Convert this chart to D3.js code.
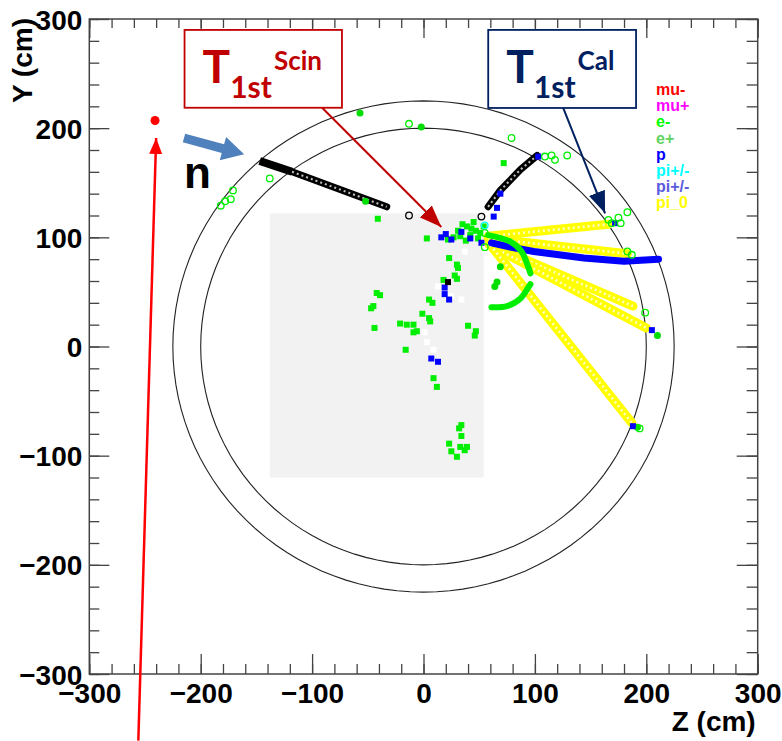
<!DOCTYPE html>
<html>
<head>
<meta charset="utf-8">
<script src="https://cdn.jsdelivr.net/npm/d3@7"></script>
<style>
  body { margin: 0; background: #fff; }
  svg { display: block; font-family: "Liberation Sans", Arial, sans-serif; }
</style>
</head>
<body>
<svg id="chart" width="782" height="741"></svg>
<script>
// ---- data (cm) ----
let zTicks = [-300, -200, -100, 0, 100, 200, 300];
let yTicks = [-300, -200, -100, 0, 100, 200, 300];
let ringRadii = [200, 225];
let shadeZ = [-138, 54];
let shadeY = [-120, 122];

let legendLabels = ["mu-", "mu+", "e-", "e+", "p", "pi+/-", "pi+/-", "pi_0"];
let legendColors = ["#ff0000", "#ff00ff", "#00ff00", "#5fd35f", "#0000ff", "#00ffff", "#5b5be0", "#ffff00"];

// tracks drawn as dense runs of markers
let blackSolidTrack = [[-147, 170], [-118, 160]];
let blackRingTracks = [
  [[-118, 160], [-33, 128]],
  [[58, 128], [69, 143], [87, 162], [102, 175]]
];
let blueTrack = [[61, 95], [78, 91], [99, 87], [144, 81], [180, 78], [195, 79], [211, 80]];
let greenArcs = [
  [[58, 102], [78, 96], [88, 87], [94, 73], [96, 67]],
  [[61, 36], [75, 37], [87, 44], [94, 54], [96, 57]]
];
let yellowTracks = [
  [[58, 101], [166, 112]],
  [[58, 99], [183, 85]],
  [[59, 94], [188, 37]],
  [[59, 93], [200, 17]],
  [[60, 93], [187, -70]]
];

// single hits
let greenSquares = [[3, 99], [-41, 117], [23, 81], [30, 75], [31, 72], [28, 65], [30, 62], [18, 61],
  [-42, 49], [-39, 47], [-45, 37], [-47, 35], [-44, 17], [5, 43], [8, 40], [-1, 30], [5, 26], [6, 23],
  [-21, 21], [-15, 20], [-9, 20], [-9, 13], [-6, 14], [40, 19], [47, 14], [46, 10], [-16, -3], [9, -29],
  [12, -37], [34, -72], [32, -75], [34, -82], [23, -89], [25, -96], [33, -92], [37, -95], [39, -92],
  [30, -101], [35, 112], [39, 110], [43, 108], [47, 106], [31, 106], [27, 100], [38, 97], [49, 99],
  [51, 104], [45, 114], [54, 110], [33, 101], [42, 102], [22, 98], [72, 168]];
let greenDots = [[-52, 133], [-57, 214], [-2, 201], [69, 73], [66, 59], [64, 55], [210, 10], [192, -74]];
let greenRings = [[-138, 154], [-182, 129], [-178, 133], [-173, 135], [-171, 143], [-13, 204], [79, 191],
  [109, 174], [115, 175], [118, 171], [129, 175], [55, 104], [55, 91], [166, 116], [177, 113], [183, 123],
  [175, 118], [169, 113], [183, 87], [187, 84], [199, 31], [194, -75]];
let blueHits = [[16, 100], [20, 103], [25, 98], [34, 105], [42, 99], [52, 95], [19, 54], [19, 48], [23, 43],
  [7, -11], [13, -14], [103, 174], [69, 140], [66, 127], [63, 119], [172, 113], [205, 15], [188, -73]];
let blackHits = [[22, 59]];
let blackRings = [[-13, 120], [52, 119]];
let cyanRings = [[55, 111]];
let whiteHits = [[13, 55], [25, 46], [34, 43], [37, 87], [1, 13], [3, 4], [9, -3]];

// annotations (cm)
let startDot = [-241, 207];
let startArrow = [[-256, -361], [-240, 191]];
let beamArrow = [[-215, 191], [-161, 176]];
let scinBox = { z: [-214.5, -73.2], y: [218.7, 290], from: [-91, 218.7], to: [16, 109.5] };
let calBox = { z: [58.1, 190.8], y: [218.5, 290], from: [125.4, 218.5], to: [163, 122] };

// ---- layout ----
let svg = d3.select("#chart");
let x = d3.scaleLinear().domain([-300, 300]).range([89.3, 757.7]);
let y = d3.scaleLinear().domain([-300, 300]).range([674, 19]);
let axisColor = "#444";

svg.append("rect")
  .attr("x", x(shadeZ[0])).attr("y", y(shadeY[1]))
  .attr("width", x(shadeZ[1]) - x(shadeZ[0]))
  .attr("height", y(shadeY[0]) - y(shadeY[1]))
  .attr("fill", "#f2f2f2");

// detector rings
let angles = d3.range(0, 361, 3);
ringRadii.forEach(function(r) {
  svg.append("path")
    .attr("d", d3.line()(angles.map(function(a) {
      let t = a * Math.PI / 180;
      return [x(r * Math.cos(t)), y(r * Math.sin(t))];
    })))
    .attr("fill", "none").attr("stroke", "#222").attr("stroke-width", 1.1);
});

let line = d3.line().x(function(d) { return x(d[0]); }).y(function(d) { return y(d[1]); });

function ringTrack(pts, color, w) {
  svg.append("path").attr("d", line(pts)).attr("fill", "none")
    .attr("stroke", color).attr("stroke-width", w).attr("stroke-linecap", "round");
  svg.append("path").attr("d", line(pts)).attr("fill", "none")
    .attr("stroke", "#fff").attr("stroke-opacity", 0.75).attr("stroke-width", w * 0.3)
    .attr("stroke-dasharray", "2 3");
}

yellowTracks.forEach(function(t) { ringTrack(t, "#ffff00", 9); });
svg.append("path").attr("d", line(blackSolidTrack)).attr("fill", "none")
  .attr("stroke", "#000").attr("stroke-width", 8);
blackRingTracks.forEach(function(t) { ringTrack(t, "#000", 7); });
svg.append("path").attr("d", line(blueTrack)).attr("fill", "none")
  .attr("stroke", "#0000ff").attr("stroke-width", 7).attr("stroke-linecap", "round")
  .attr("stroke-linejoin", "round");
greenArcs.forEach(function(t) {
  svg.append("path").attr("d", d3.line().curve(d3.curveCatmullRom)
      .x(function(d) { return x(d[0]); }).y(function(d) { return y(d[1]); })(t))
    .attr("fill", "none").attr("stroke", "#00ee00").attr("stroke-width", 6)
    .attr("stroke-linecap", "round");
});

function squares(data, color) {
  svg.append("g").selectAll("rect").data(data).enter().append("rect")
    .attr("x", function(d) { return x(d[0]) - 3; })
    .attr("y", function(d) { return y(d[1]) - 3; })
    .attr("width", 6).attr("height", 6).attr("fill", color);
}
function dots(data, color) {
  svg.append("g").selectAll("circle").data(data).enter().append("circle")
    .attr("cx", function(d) { return x(d[0]); }).attr("cy", function(d) { return y(d[1]); })
    .attr("r", 3.5).attr("fill", color);
}
function rings(data, color) {
  svg.append("g").selectAll("circle").data(data).enter().append("circle")
    .attr("cx", function(d) { return x(d[0]); }).attr("cy", function(d) { return y(d[1]); })
    .attr("r", 3.3).attr("fill", "none").attr("stroke", color).attr("stroke-width", 1.3);
}

squares(whiteHits, "#ffffff");
squares(greenSquares, "#00ee00");
dots(greenDots, "#00dd00");
squares(blueHits, "#0000ff");
squares(blackHits, "#000");
rings(greenRings, "#00ee00");
rings(blackRings, "#000");
rings(cyanRings, "#00ffff");

// ---- frame and axes ----
svg.append("rect").attr("x", x(-300)).attr("y", y(300))
  .attr("width", x(300) - x(-300)).attr("height", y(-300) - y(300))
  .attr("fill", "none").attr("stroke", axisColor).attr("stroke-width", 1.5);

let minor = d3.range(-300, 301, 20);
function addAxis(axis, tf, size, vals, labels, pad) {
  let g = svg.append("g").attr("transform", tf)
    .call(axis.tickValues(vals).tickSize(size).tickPadding(pad)
      .tickFormat(labels ? d3.format("d") : ""));
  g.select(".domain").remove();
  g.selectAll("line").attr("stroke", axisColor).attr("stroke-width", 1.3);
  g.selectAll("text").attr("fill", "#000").attr("font-size", 28).attr("font-weight", "bold")
    .attr("font-family", "'Liberation Sans', Arial, sans-serif");
  return g;
}
addAxis(d3.axisBottom(x), "translate(0," + y(-300) + ")", -20, zTicks, true, 9);
addAxis(d3.axisBottom(x), "translate(0," + y(-300) + ")", -10, minor, false, 0);
addAxis(d3.axisTop(x), "translate(0," + y(300) + ")", -19, zTicks, false, 0);
addAxis(d3.axisTop(x), "translate(0," + y(300) + ")", -9, minor, false, 0);
addAxis(d3.axisLeft(y), "translate(" + x(-300) + ",0)", -20, yTicks, true, 7)
  .selectAll("text").attr("dy", "0.36em");
addAxis(d3.axisLeft(y), "translate(" + x(-300) + ",0)", -10, minor, false, 0);
addAxis(d3.axisRight(y), "translate(" + x(300) + ",0)", -21, yTicks, false, 0);
addAxis(d3.axisRight(y), "translate(" + x(300) + ",0)", -11, minor, false, 0);

svg.append("text").attr("x", x(300) - 2).attr("y", 731).attr("text-anchor", "end")
  .attr("font-size", 28).attr("font-weight", "bold").text("Z (cm)");
svg.append("text").attr("transform", "translate(32,18) rotate(-90)").attr("text-anchor", "end")
  .attr("font-size", 28).attr("font-weight", "bold").text("Y (cm)");

// legend
svg.append("g").selectAll("text").data(legendLabels).enter().append("text")
  .attr("x", 656).attr("y", function(d, i) { return 95 + i * 16.2; })
  .attr("font-size", 16).attr("font-weight", "bold")
  .attr("fill", function(d, i) { return legendColors[i]; })
  .text(function(d) { return d; });

// ---- annotations ----
let defs = svg.append("defs");
function arrowHead(id, color, len, wid) {
  defs.append("marker").attr("id", id).attr("viewBox", "0 0 " + len + " " + wid)
    .attr("refX", len).attr("refY", wid / 2).attr("markerUnits", "userSpaceOnUse")
    .attr("markerWidth", len).attr("markerHeight", wid).attr("orient", "auto")
    .append("path").attr("d", "M0,0L" + len + "," + (wid / 2) + "L0," + wid + "Z").attr("fill", color);
}
arrowHead("headRed", "#ff0000", 16, 13);
arrowHead("headDark", "#c00000", 22, 17);
arrowHead("headNavy", "#002060", 22, 17);

svg.append("circle").attr("cx", x(startDot[0])).attr("cy", y(startDot[1])).attr("r", 4.5).attr("fill", "#ff0000");
svg.append("line")
  .attr("x1", x(startArrow[0][0])).attr("y1", y(startArrow[0][1]))
  .attr("x2", x(startArrow[1][0])).attr("y2", y(startArrow[1][1]))
  .attr("stroke", "#ff0000").attr("stroke-width", 2.5).attr("marker-end", "url(#headRed)");

// block arrow for the incoming neutron
(function() {
  let x0 = x(beamArrow[0][0]), y0 = y(beamArrow[0][1]);
  let x1 = x(beamArrow[1][0]), y1 = y(beamArrow[1][1]);
  let L = Math.hypot(x1 - x0, y1 - y0), a = Math.atan2(y1 - y0, x1 - x0) * 180 / Math.PI;
  let hl = 22, sw = 4.5, hw = 12;
  svg.append("path")
    .attr("d", "M0," + (-sw) + "L" + (L - hl) + "," + (-sw) + "L" + (L - hl) + "," + (-hw) +
      "L" + L + ",0L" + (L - hl) + "," + hw + "L" + (L - hl) + "," + sw + "L0," + sw + "Z")
    .attr("transform", "translate(" + x0 + "," + y0 + ") rotate(" + a + ")")
    .attr("fill", "#4f81bd");
})();
svg.append("text").attr("x", x(beamArrow[0][0])).attr("y", y(beamArrow[0][1]) + 50)
  .attr("font-size", 44).attr("font-weight", "bold").text("n");

function labelBox(b, color, head, sup) {
  let bx = x(b.z[0]), by = y(b.y[1]), bw = x(b.z[1]) - bx, bh = y(b.y[0]) - by;
  svg.append("rect").attr("x", bx).attr("y", by).attr("width", bw).attr("height", bh)
    .attr("fill", "#fff").attr("stroke", color).attr("stroke-width", 1.8);
  let t = svg.append("text").attr("x", bx + 18).attr("y", by + 53).attr("fill", color)
    .attr("font-family", "Lato, 'Open Sans', sans-serif").attr("font-weight", "bold");
  t.append("tspan").attr("font-size", 46).text("T");
  t.append("tspan").attr("font-size", 30).attr("dy", 15).text("1st");
  t.append("tspan").attr("font-size", 26).attr("dy", -28).attr("dx", 2).text(sup);
  svg.append("line")
    .attr("x1", x(b.from[0])).attr("y1", y(b.from[1]))
    .attr("x2", x(b.to[0])).attr("y2", y(b.to[1]))
    .attr("stroke", color).attr("stroke-width", 2).attr("marker-end", "url(#" + head + ")");
}
labelBox(scinBox, "#c00000", "headDark", "Scin");
labelBox(calBox, "#002060", "headNavy", "Cal");
</script>
</body>
</html>
